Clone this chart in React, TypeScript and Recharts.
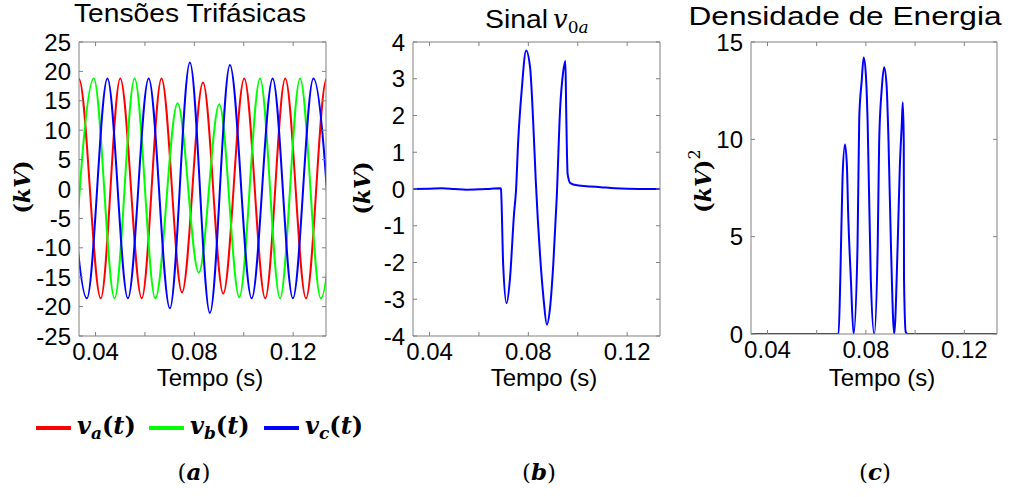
import React from 'react';
import { LineChart, Line, XAxis, YAxis } from 'recharts';

type Pt = { t: number; v: number };

// time axis shared by the three panels
const timeDomain: [number, number] = [0.0333, 0.1333];
const timeTicks = [0.04, 0.06, 0.08, 0.1, 0.12];
const timeTickLabels = ['0.04', '', '0.08', '', '0.12'];

// (a) three phase voltages, kV (extremes)
const va: Pt[] = [
  { t: 0.025, v: -18.6 }, { t: 0.0333, v: 18.7 }, { t: 0.0421, v: -18.6 }, { t: 0.05, v: 18.8 },
  { t: 0.0587, v: -18.6 }, { t: 0.0667, v: 18.8 }, { t: 0.075, v: -17.6 }, { t: 0.0835, v: 18.1 },
  { t: 0.0917, v: -17.8 }, { t: 0.1002, v: 18.8 }, { t: 0.1087, v: -18.6 }, { t: 0.1168, v: 18.8 },
  { t: 0.1252, v: -18.6 }, { t: 0.1335, v: 18.7 }, { t: 0.142, v: -18.6 },
];
const vb: Pt[] = [
  { t: 0.0306, v: -18.6 }, { t: 0.0393, v: 18.8 }, { t: 0.0477, v: -18.6 }, { t: 0.0558, v: 18.8 },
  { t: 0.0642, v: -18.6 }, { t: 0.0732, v: 14.6 }, { t: 0.0818, v: -14.2 }, { t: 0.0901, v: 14.4 },
  { t: 0.0982, v: -18.4 }, { t: 0.1066, v: 18.8 }, { t: 0.1147, v: -18.6 }, { t: 0.1228, v: 18.8 },
  { t: 0.1312, v: -18.6 }, { t: 0.1395, v: 18.8 },
];
const vc: Pt[] = [
  { t: 0.0278, v: 18.8 }, { t: 0.0365, v: -18.6 }, { t: 0.0448, v: 18.8 }, { t: 0.0531, v: -18.6 },
  { t: 0.0615, v: 18.8 }, { t: 0.0701, v: -20.3 }, { t: 0.0782, v: 21.5 }, { t: 0.0863, v: -21.1 },
  { t: 0.0944, v: 21.1 }, { t: 0.1032, v: -18.6 }, { t: 0.1117, v: 18.8 }, { t: 0.1199, v: -18.6 },
  { t: 0.1282, v: 18.8 }, { t: 0.1365, v: -18.6 },
];
const phaseTicks = [-25, -20, -15, -10, -5, 0, 5, 10, 15, 20, 25];

// (b) zero sequence signal v0a, kV
const v0a: Pt[] = [
  { t: 0.0333, v: 0 }, { t: 0.04, v: 0.01 }, { t: 0.045, v: 0.02 }, { t: 0.05, v: 0 },
  { t: 0.055, v: -0.02 }, { t: 0.06, v: -0.01 }, { t: 0.065, v: 0.01 }, { t: 0.0686, v: 0.02 },
  { t: 0.0689, v: 0 }, { t: 0.0698, v: -2.04 }, { t: 0.0712, v: -3.11 }, { t: 0.0725, v: -2.49 },
  { t: 0.0742, v: -0.68 }, { t: 0.075, v: -0.04 }, { t: 0.0759, v: 1.32 }, { t: 0.0773, v: 2.68 },
  { t: 0.0791, v: 3.77 }, { t: 0.0807, v: 3.31 }, { t: 0.082, v: 1.77 }, { t: 0.083, v: 0.23 },
  { t: 0.0847, v: -1.76 }, { t: 0.0861, v: -2.94 }, { t: 0.0875, v: -3.69 }, { t: 0.0888, v: -3.22 },
  { t: 0.0901, v: -2.04 }, { t: 0.0915, v: -0.22 }, { t: 0.0929, v: 2.23 }, { t: 0.094, v: 3.13 },
  { t: 0.095, v: 3.48 }, { t: 0.0953, v: 2.23 }, { t: 0.0959, v: 0.41 }, { t: 0.097, v: 0.16 },
  { t: 0.0997, v: 0.1 }, { t: 0.1052, v: 0.07 }, { t: 0.1093, v: 0.05 }, { t: 0.115, v: 0.02 },
  { t: 0.125, v: 0 }, { t: 0.1333, v: 0 },
];
const v0aTicks = [-4, -3, -2, -1, 0, 1, 2, 3, 4];

// (c) energy density, kV^2
const energy: Pt[] = [
  { t: 0.0333, v: 0 }, { t: 0.0689, v: 0 }, { t: 0.0696, v: 2.82 }, { t: 0.0705, v: 8.0 },
  { t: 0.0715, v: 9.73 }, { t: 0.0723, v: 8.6 }, { t: 0.0728, v: 6.2 }, { t: 0.0739, v: 2.8 },
  { t: 0.075, v: 0 }, { t: 0.0766, v: 4.5 }, { t: 0.0773, v: 11.1 }, { t: 0.0783, v: 13.0 },
  { t: 0.0791, v: 14.2 }, { t: 0.08, v: 13.3 }, { t: 0.0807, v: 10.96 }, { t: 0.082, v: 2.8 },
  { t: 0.0834, v: 0 }, { t: 0.0848, v: 4.5 }, { t: 0.0854, v: 9.9 }, { t: 0.0864, v: 12.5 },
  { t: 0.0874, v: 13.7 }, { t: 0.0884, v: 12.8 }, { t: 0.0892, v: 9.9 }, { t: 0.0902, v: 4.5 },
  { t: 0.0915, v: 0 }, { t: 0.0929, v: 4.5 }, { t: 0.0938, v: 8.6 }, { t: 0.0946, v: 10.8 },
  { t: 0.095, v: 11.9 }, { t: 0.0954, v: 9.9 }, { t: 0.0955, v: 2.8 }, { t: 0.0962, v: 0.1 },
  { t: 0.097, v: 0 }, { t: 0.1333, v: 0 },
];
const energyTicks = [0, 5, 10, 15];

const SANS = '"Liberation Sans", Arial, sans-serif';
const MATH = '"DejaVu Serif", "Liberation Serif", serif';
const FRAME = '#808080';
const tickStyle = { fill: '#000', fontSize: 24, fontFamily: SANS };

type Series = { data: Pt[]; color: string };

function Panel({
  left,
  plot,
  yDomain,
  yTicks,
  series,
}: {
  left: number;
  plot: { x0: number; x1: number; y0: number; y1: number };
  yDomain: [number, number];
  yTicks: number[];
  series: Series[];
}) {
  const W = 340;
  const H = 400;
  const XH = 40;
  const YW = 60;
  // top / right axes are 1px thick so they still get drawn as the box
  const margin = {
    top: plot.y0 - 1,
    bottom: H - plot.y1 - XH,
    left: plot.x0 - left - YW,
    right: left + W - plot.x1 - 1,
  };
  return (
    <div style={{ position: 'absolute', left, top: 0 }}>
      <LineChart width={W} height={H} margin={margin}>
        <XAxis
          dataKey="t"
          type="number"
          domain={timeDomain}
          allowDataOverflow
          ticks={timeTicks}
          interval={0}
          tickFormatter={(v: number) => timeTickLabels[timeTicks.indexOf(v)] ?? ''}
          height={XH}
          tickSize={-4}
          tickMargin={11}
          stroke={FRAME}
          tick={tickStyle}
        />
        <XAxis
          xAxisId="top"
          orientation="top"
          dataKey="t"
          type="number"
          domain={timeDomain}
          allowDataOverflow
          ticks={timeTicks}
          interval={0}
          tickFormatter={() => ''}
          height={1}
          tickSize={-4}
          stroke={FRAME}
        />
        <YAxis
          type="number"
          domain={yDomain}
          allowDataOverflow
          ticks={yTicks}
          interval={0}
          width={YW}
          tickSize={-4}
          tickMargin={12}
          stroke={FRAME}
          tick={tickStyle}
        />
        <YAxis
          yAxisId="right"
          orientation="right"
          type="number"
          domain={yDomain}
          allowDataOverflow
          ticks={yTicks}
          interval={0}
          tickFormatter={() => ''}
          width={1}
          tickSize={-4}
          stroke={FRAME}
        />
        {/* invisible copy tied to the top and right axes */}
        <Line
          xAxisId="top"
          yAxisId="right"
          data={series[0].data}
          dataKey="v"
          stroke="none"
          dot={false}
          activeDot={false}
          isAnimationActive={false}
        />
        {series.map((s, i) => (
          <Line
            key={i}
            data={s.data}
            dataKey="v"
            type="monotone"
            stroke={s.color}
            strokeWidth={2}
            dot={false}
            isAnimationActive={false}
          />
        ))}
      </LineChart>
    </div>
  );
}

function LegendItem({ x, color, sub }: { x: number; color: string; sub: string }) {
  return (
    <g>
      <rect x={x} y={426} width={35} height={4} fill={color} />
      <text x={x + 41} y={434} fontFamily={MATH} fontSize={24} fontWeight="bold" fill="#000">
        <tspan fontStyle="italic">v</tspan>
        <tspan fontStyle="italic" fontSize={17} dy={5}>{sub}</tspan>
        <tspan dy={-5}>(</tspan>
        <tspan fontStyle="italic">t</tspan>
        <tspan>)</tspan>
      </text>
    </g>
  );
}

function YLabel({ x, y, squared }: { x: number; y: number; squared?: boolean }) {
  return (
    <text
      transform={`translate(${x},${y}) rotate(-90)`}
      textAnchor="middle"
      dominantBaseline="central"
      fontFamily={MATH}
      fontSize={22}
      fontWeight="bold"
      fill="#000"
    >
      (<tspan fontStyle="italic">kV</tspan>)
      {squared ? (
        <tspan fontSize={16} fontWeight="normal" dy={-9}>2</tspan>
      ) : null}
    </text>
  );
}

export default function App() {
  return (
    <div style={{ position: 'absolute', left: 0, top: 0, width: 1013, height: 497, background: '#fff' }}>
      <Panel
        left={0}
        plot={{ x0: 79, x1: 326, y0: 42, y1: 336 }}
        yDomain={[-25, 25]}
        yTicks={phaseTicks}
        series={[
          { data: va, color: '#ff0000' },
          { data: vb, color: '#00ff00' },
          { data: vc, color: '#0000ff' },
        ]}
      />
      <Panel
        left={340}
        plot={{ x0: 413, x1: 660, y0: 42, y1: 336 }}
        yDomain={[-4, 4]}
        yTicks={v0aTicks}
        series={[{ data: v0a, color: '#0000ff' }]}
      />
      <Panel
        left={673}
        plot={{ x0: 751, x1: 997, y0: 42, y1: 334 }}
        yDomain={[0, 15]}
        yTicks={energyTicks}
        series={[{ data: energy, color: '#0000ff' }]}
      />
      <svg
        width={1013}
        height={497}
        style={{ position: 'absolute', left: 0, top: 0, pointerEvents: 'none' }}
      >
        <g fontFamily={SANS} fontSize={25} fill="#000">
          <text x={190} y={22} textAnchor="middle" textLength={232} lengthAdjust="spacingAndGlyphs">
            Tensões Trifásicas
          </text>
          <text x={485} y={28} textLength={63} lengthAdjust="spacingAndGlyphs">Sinal</text>
          <text x={845} y={25} textAnchor="middle" textLength={313} lengthAdjust="spacingAndGlyphs">
            Densidade de Energia
          </text>
          <text x={210} y={386} textAnchor="middle" fontSize={24}>Tempo (s)</text>
          <text x={544} y={386} textAnchor="middle" fontSize={24}>Tempo (s)</text>
          <text x={882} y={386} textAnchor="middle" fontSize={24}>Tempo (s)</text>
        </g>
        <text x={553} y={28} fontFamily={MATH} fontSize={26} fontStyle="italic" fill="#000">
          v<tspan fontSize={17} dy={5} fontStyle="normal">0</tspan>
          <tspan fontSize={17}>a</tspan>
        </text>
        <YLabel x={22} y={187} />
        <YLabel x={362} y={188} />
        <YLabel x={703} y={181} squared />
        <LegendItem x={36} color="#ff0000" sub="a" />
        <LegendItem x={149} color="#00ff00" sub="b" />
        <LegendItem x={264} color="#0000ff" sub="c" />
        <g fontFamily={MATH} fontSize={23} fill="#000" textAnchor="middle">
          <text x={194} y={480}>(<tspan fontStyle="italic" fontWeight="bold">a</tspan>)</text>
          <text x={539} y={480}>(<tspan fontStyle="italic" fontWeight="bold">b</tspan>)</text>
          <text x={875} y={480}>(<tspan fontStyle="italic" fontWeight="bold">c</tspan>)</text>
        </g>
      </svg>
    </div>
  );
}
